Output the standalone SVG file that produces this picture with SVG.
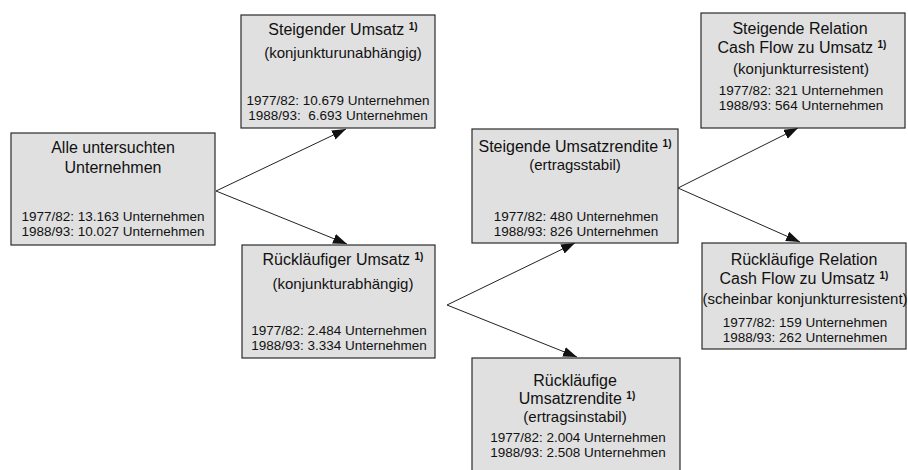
<svg xmlns="http://www.w3.org/2000/svg" width="908" height="470" viewBox="0 0 908 470">
<style>
.box{fill:#e0e0e0;stroke:#2a2a2a;stroke-width:1.2}
text{font-family:"Liberation Sans",Arial,sans-serif;fill:#111;text-anchor:middle}
.t{font-size:16px}
.s{font-size:15px}
.d{font-size:13.5px}
.sup{font-size:10px;font-weight:bold}
.c{fill:none;stroke:#222;stroke-width:1;marker-end:url(#ah)}
</style>
<defs>
<marker id="ah" markerUnits="userSpaceOnUse" markerWidth="15" markerHeight="11" refX="14" refY="5" orient="auto">
<path d="M0,0 L14,5 L0,10 z" fill="#111"/>
</marker>
</defs>
<rect width="908" height="470" fill="#fff"/>
<g id="connectors">
<path class="c" d="M216,191 L346,129"/>
<path class="c" d="M216,191 L347,244"/>
<path class="c" d="M447,305 L575,243"/>
<path class="c" d="M447,305 L577,357"/>
<path class="c" d="M678,188 L798,128"/>
<path class="c" d="M678,188 L800,242"/>
</g>
<g id="alle">
<rect class="box" x="11" y="133" width="204" height="112"/>
<text class="t" x="113" y="153">Alle untersuchten</text>
<text class="t" x="113" y="173">Unternehmen</text>
<text class="d" x="113" y="221">1977/82: 13.163 Unternehmen</text>
<text class="d" x="113" y="236">1988/93: 10.027 Unternehmen</text>
</g>
<g id="steigender-umsatz">
<rect class="box" x="241" y="15" width="194" height="113"/>
<text class="t" x="343" y="35">Steigender Umsatz <tspan class="sup" dy="-5">1)</tspan></text>
<text class="s" x="343" y="58">(konjunkturunabhängig)</text>
<text class="d" x="338" y="105">1977/82: 10.679 Unternehmen</text>
<text class="d" x="338" y="120">1988/93: &#160;6.693 Unternehmen</text>
</g>
<g id="ruecklaeufiger-umsatz">
<rect class="box" x="242" y="245" width="193" height="113"/>
<text class="t" x="343" y="265">Rückläufiger Umsatz <tspan class="sup" dy="-5">1)</tspan></text>
<text class="s" x="343" y="289">(konjunkturabhängig)</text>
<text class="d" x="339" y="335">1977/82: 2.484 Unternehmen</text>
<text class="d" x="339" y="350">1988/93: 3.334 Unternehmen</text>
</g>
<g id="steigende-umsatzrendite">
<rect class="box" x="472" y="129" width="206" height="114"/>
<text class="t" x="575" y="152">Steigende Umsatzrendite <tspan class="sup" dy="-5">1)</tspan></text>
<text class="s" x="575" y="170">(ertragsstabil)</text>
<text class="d" x="576" y="221">1977/82: 480 Unternehmen</text>
<text class="d" x="576" y="236">1988/93: 826 Unternehmen</text>
</g>
<g id="ruecklaeufige-umsatzrendite">
<rect class="box" x="472" y="358" width="208" height="120"/>
<text class="t" x="575" y="386">Rückläufige</text>
<text class="t" x="577" y="404">Umsatzrendite <tspan class="sup" dy="-5">1)</tspan></text>
<text class="s" x="575" y="422">(ertragsinstabil)</text>
<text class="d" x="578" y="442">1977/82: 2.004 Unternehmen</text>
<text class="d" x="578" y="457">1988/93: 2.508 Unternehmen</text>
</g>
<g id="steigende-relation">
<rect class="box" x="701" y="13" width="204" height="115"/>
<text class="t" x="800" y="34">Steigende Relation</text>
<text class="t" x="802" y="53">Cash Flow zu Umsatz <tspan class="sup" dy="-5">1)</tspan></text>
<text class="s" x="801" y="74">(konjunkturresistent)</text>
<text class="d" x="801" y="95">1977/82: 321 Unternehmen</text>
<text class="d" x="801" y="110">1988/93: 564 Unternehmen</text>
</g>
<g id="ruecklaeufige-relation">
<rect class="box" x="702" y="243" width="204" height="106"/>
<text class="t" x="804" y="265">Rückläufige Relation</text>
<text class="t" x="804" y="284">Cash Flow zu Umsatz <tspan class="sup" dy="-5">1)</tspan></text>
<text class="s" x="805" y="304">(scheinbar konjunkturresistent)</text>
<text class="d" x="805" y="327">1977/82: 159 Unternehmen</text>
<text class="d" x="805" y="342">1988/93: 262 Unternehmen</text>
</g>
</svg>
